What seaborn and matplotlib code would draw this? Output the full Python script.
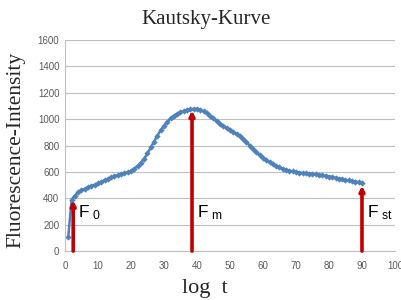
import matplotlib
matplotlib.use("Agg")
import matplotlib.pyplot as plt
import seaborn as sns
import pandas as pd

sns.set_style("white")
plt.rcParams['font.family'] = ['Liberation Sans', 'DejaVu Sans']
plt.rcParams['mathtext.fontset'] = 'custom'
plt.rcParams['mathtext.rm'] = 'Liberation Sans'
plt.rcParams['mathtext.it'] = 'Liberation Sans'

# fluorescence readings, one per time step
time_steps = list(range(1, 91))
intensity = [
    105, 390, 420, 445, 460, 472, 482, 493, 503, 513,
    525, 537, 548, 558, 567, 575, 582, 590, 598, 608,
    625, 645, 670, 700, 740, 785, 830, 875, 915, 950,
    980, 1005, 1025, 1040, 1052, 1062, 1070, 1075, 1077, 1075,
    1070, 1060, 1045, 1025, 1005, 985, 965, 948, 932, 918,
    903, 888, 870, 850, 825, 800, 775, 750, 728, 708,
    690, 673, 658, 645, 635, 625, 617, 610, 604, 599,
    595, 592, 589, 587, 585, 582, 578, 574, 570, 565,
    560, 555, 550, 545, 540, 535, 530, 527, 523, 518,
]

# arrows marking the characteristic points
arrow_x = [2.5, 38.5, 90]
arrow_top = [385, 1065, 495]
arrow_labels = [r'F$_{\ 0}$', r'F$_{\ \mathrm{m}}$', r'F$_{\ \mathrm{st}}$']

df = pd.DataFrame({'t': time_steps, 'F': intensity})

fig = plt.figure(figsize=(4.01, 3.0), dpi=100)
ax = fig.add_axes([0.162, 0.163, 0.823, 0.704])

sns.lineplot(data=df, x='t', y='F', ax=ax, color='#4F81BD', marker='D',
             markersize=3.2, markeredgewidth=0, linewidth=1.8)

for x, top, lab in zip(arrow_x, arrow_top, arrow_labels):
    ax.annotate('', xy=(x, top), xytext=(x, 0),
                arrowprops=dict(arrowstyle='-|>', color='#C00000', lw=2.6,
                                mutation_scale=7, shrinkA=0, shrinkB=0))
    ax.text(x + 1.5, 290, lab, fontsize=12.5, color='black', va='center', ha='left')

ax.set_xlim(0, 100)
ax.set_ylim(0, 1600)
ax.set_xticks(range(0, 101, 10))
ax.set_yticks(range(0, 1601, 200))
ax.yaxis.grid(True, color='#BFBFBF', linewidth=0.8)
ax.xaxis.grid(False)
ax.tick_params(axis='both', labelsize=7, colors='#595959', length=0, pad=4)
ax.tick_params(axis='x', length=3, color='#BFBFBF', direction='out')
for s in ['top', 'right']:
    ax.spines[s].set_visible(False)
for s in ['left', 'bottom']:
    ax.spines[s].set_color('#BFBFBF')
    ax.spines[s].set_linewidth(0.8)

serif = ['Liberation Serif', 'DejaVu Serif']
ax.set_xlabel('log  t', family=serif, fontsize=16)
ax.xaxis.set_label_coords(0.424, -0.13)
ax.set_ylabel('Fluorescence-Intensity', family=serif, fontsize=15.5)
ax.yaxis.set_label_coords(-0.12, 0.48)
fig.text(0.514, 0.935, 'Kautsky-Kurve', family=serif, fontsize=15, ha='center', va='center')

fig.savefig('out.png', dpi=100)
